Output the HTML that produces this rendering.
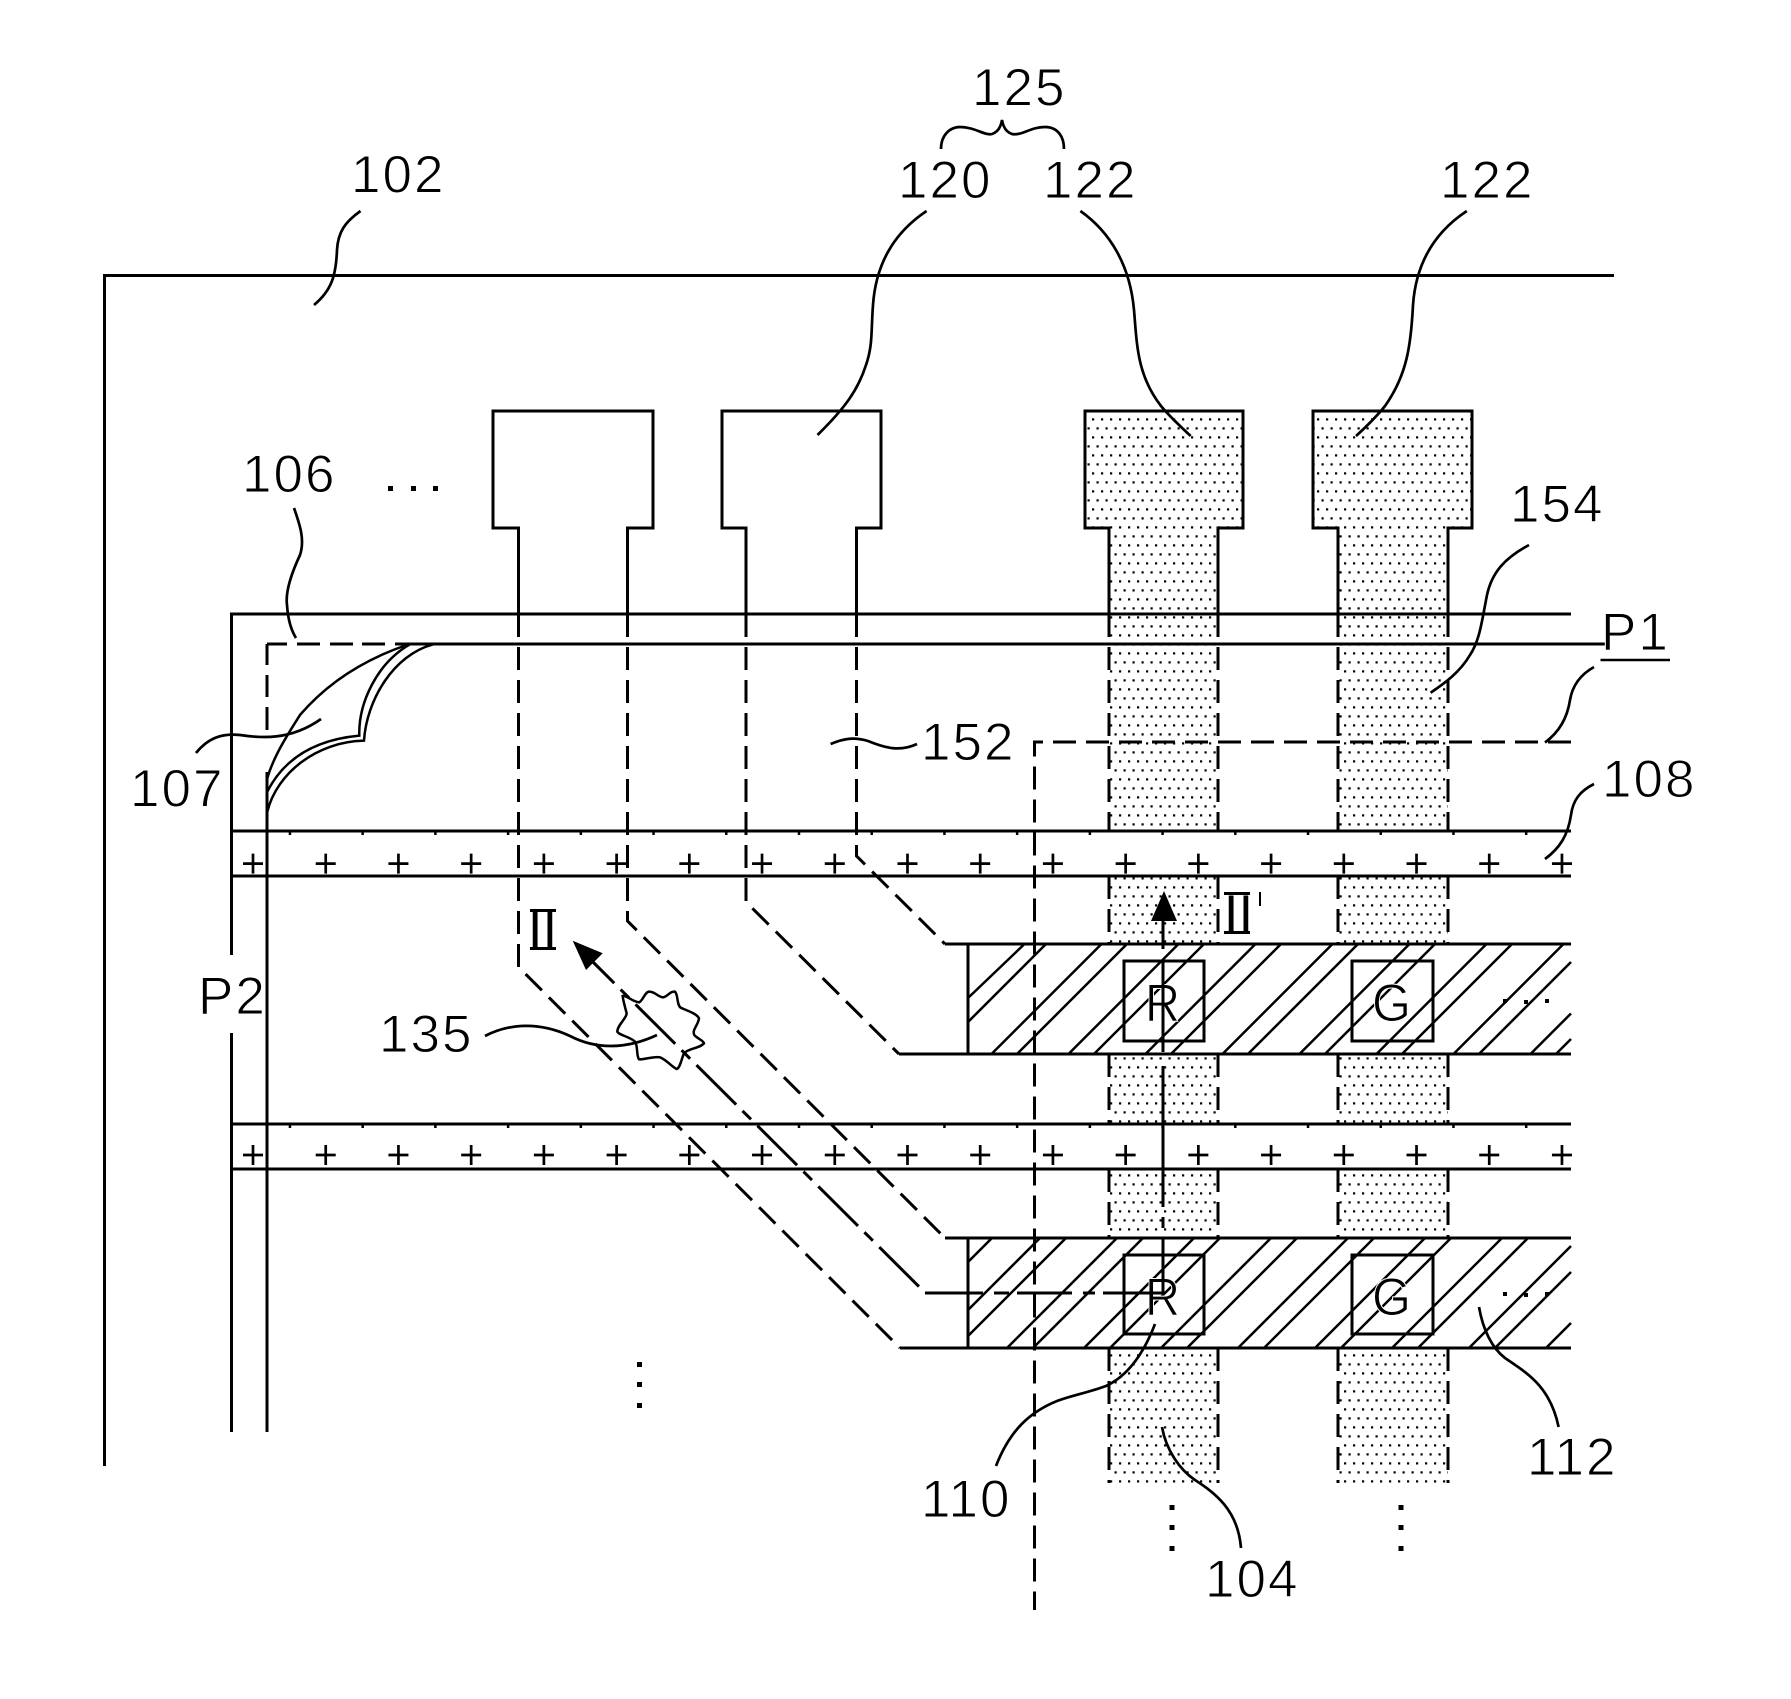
<!DOCTYPE html>
<html><head><meta charset="utf-8"><style>
html,body{margin:0;padding:0;background:#fff}
svg{display:block}
text{font-family:"Liberation Sans",sans-serif;font-size:53px;fill:#000;stroke:#fff;stroke-width:1px;letter-spacing:2px}
</style></head><body>
<svg xmlns="http://www.w3.org/2000/svg" width="1791" height="1699" viewBox="0 0 1791 1699">
<defs>
<pattern id="st" patternUnits="userSpaceOnUse" x="1092" y="418.3" width="9" height="18"><rect x="0" y="0" width="2.2" height="2.2" fill="#000"/><rect x="4.5" y="9" width="2.2" height="2.2" fill="#000"/></pattern>
</defs>
<rect width="1791" height="1699" fill="#fff"/>
<!-- stipple -->
<g fill="url(#st)">
<path d="M1085,411H1243V528H1218V830H1109V528H1085Z"/>
<path d="M1313,411H1472V528H1448V830H1338V528H1313Z"/>
<rect x="1109" y="876" width="109" height="68"/><rect x="1338" y="876" width="110" height="68"/>
<rect x="1109" y="1054" width="109" height="70"/><rect x="1338" y="1054" width="110" height="70"/>
<rect x="1109" y="1169" width="109" height="69"/><rect x="1338" y="1169" width="110" height="69"/>
<rect x="1109" y="1348" width="109" height="135"/><rect x="1338" y="1348" width="110" height="135"/>
</g>
<g fill="none" stroke="#000" stroke-width="3">
<!-- frame -->
<path d="M104.5,1466V275.5H1614"/>
<path d="M231.5,1432V1033M231.5,955V614H1571"/>
<path d="M395,644H1606"/>
<path d="M267,644H287M297,644H320M330,644H353M362,644H385"/>
<path d="M267,644V665M267,675V697M267,707V730M267,772V1432"/>
<!-- bands -->
<path d="M231.5,831H1571M231.5,876H1571M231.5,1124H1571M231.5,1169H1571"/>
<!-- pads -->
<path d="M518.5,637V528H493V411H653V528H627.5V637"/>
<path d="M746,637V528H722V411H881V528H856.5V637"/>
<path d="M1109,637V528H1085V411H1243V528H1218V637"/>
<path d="M1338,637V528H1313V411H1472V528H1448V637"/>
<!-- dashed stems + diagonals -->
<path stroke-dasharray="23 10" d="M518.5,647V967L900,1348"/>
<path stroke-dasharray="23 10" d="M627.5,647V921L945,1238"/>
<path stroke-dasharray="23 10" d="M746,647V902L899,1054"/>
<path stroke-dasharray="23 10" d="M856.5,647V856L945,944"/>
<path d="M899,1054H1571M945,944H1571M945,1238H1571M900,1348H1571"/>
<path stroke-dasharray="23 10" d="M1109,647V831M1218,647V831M1338,647V831M1448,647V831M1109,876V944M1218,876V944M1338,876V944M1448,876V944M1109,1054V1124M1218,1054V1124M1338,1054V1124M1448,1054V1124M1109,1169V1238M1218,1169V1238M1338,1169V1238M1448,1169V1238M1109,1348V1483M1218,1348V1483M1338,1348V1483M1448,1348V1483"/>
<!-- P1 dashed -->
<path stroke-dasharray="23 10" d="M1571,742H1034.5V1610"/>
<path d="M968,944V1054M968,1238V1348"/>
</g>
<!-- hatch -->
<g fill="none" stroke="#000" stroke-width="2.5">
<path d="M968,998L1024.5,944M968,1022L1046,944M991.5,1054L1101.5,944M1017,1054L1127,944M1068.5,1054L1178.5,944M1094,1054L1204,944M1145.5,1054L1255.5,944M1171,1054L1281,944M1222.5,1054L1332.5,944M1248,1054L1358,944M1299.5,1054L1409.5,944M1325,1054L1435,944M1376.5,1054L1486.5,944M1402,1054L1512,944M1453.5,1054L1563.5,944M1479,1054L1571,962M1530.5,1054L1571,1013.5M1556,1054L1571,1039"/>
<path d="M968,1262L992,1238M968,1310L1040,1238M968,1336L1066,1238M1007,1348L1117,1238M1033,1348L1143,1238M1084,1348L1194,1238M1110,1348L1220,1238M1161,1348L1271,1238M1187,1348L1297,1238M1238,1348L1348,1238M1264,1348L1374,1238M1315,1348L1425,1238M1341,1348L1451,1238M1392,1348L1502,1238M1418,1348L1528,1238M1469,1348L1571,1246M1495,1348L1571,1272M1546,1348L1571,1323"/>
</g>
<!-- ticks and plus marks -->
<g fill="none" stroke="#000">
<path stroke-width="4" stroke-dasharray="2.5 70.22" d="M288.7,833H1530M288.7,1126H1530"/>
<path stroke-width="2.7" stroke-dasharray="20 52.72" d="M243,863.6H1572M243,1155H1572"/>
<path stroke-width="20" stroke-dasharray="2.7 70.02" d="M251.65,863.6H1572M251.65,1155H1572"/>
</g>
<!-- boxes -->
<g fill="none" stroke="#000" stroke-width="3">
<rect x="1124" y="961" width="80" height="80"/><rect x="1352" y="961" width="81" height="80"/>
<rect x="1124" y="1255" width="80" height="79"/><rect x="1352" y="1255" width="81" height="79"/>
</g>
<!-- labels -->
<text x="351" y="192.5">102</text>
<text x="972" y="105.5">125</text>
<text x="898" y="198">120</text>
<text x="1043" y="198">122</text>
<text x="1440" y="198">122</text>
<text x="242" y="492">106</text>
<text x="130" y="806.5">107</text>
<text x="1510" y="522">154</text>
<text x="1601" y="650">P1</text>
<text x="921" y="760">152</text>
<text x="1602" y="797">108</text>
<text x="198" y="1014">P2</text>
<text x="379" y="1052">135</text>
<text x="1527" y="1475">112</text>
<text x="921" y="1517">110</text>
<text x="1205" y="1597">104</text>
<text x="1145" y="1021" textLength="35" lengthAdjust="spacingAndGlyphs" style="letter-spacing:0">R</text>
<text x="1372" y="1021" textLength="39" lengthAdjust="spacingAndGlyphs" style="letter-spacing:0">G</text>
<text x="1145" y="1315" textLength="35" lengthAdjust="spacingAndGlyphs" style="letter-spacing:0">R</text>
<text x="1372" y="1315" textLength="39" lengthAdjust="spacingAndGlyphs" style="letter-spacing:0">G</text>
<!-- roman numerals -->
<text x="517.5" y="948" style='font-family:"Noto Sans CJK KR","Liberation Sans",sans-serif;font-size:50px;letter-spacing:0;stroke:none'>Ⅱ</text>
<text x="1213.5" y="932" style='font-family:"Noto Sans CJK KR","Liberation Sans",sans-serif;font-size:50px;letter-spacing:0;stroke:none'>Ⅱ</text>
<g fill="#000">
<rect x="530" y="909" width="26" height="3"/><rect x="530" y="947" width="26" height="3"/>
<rect x="1224" y="892" width="26" height="3"/><rect x="1224" y="931" width="26" height="3"/>
</g>
<rect x="1259" y="892" width="2" height="14" fill="#000"/>
<line x1="1600.5" y1="660" x2="1670" y2="660" stroke="#000" stroke-width="2.5"/>
<!-- leaders -->
<g fill="none" stroke="#000" stroke-width="2.7">
<path d="M360.5,211C345,222 338,232 337,250C336,275 332,290 314,305"/>
<path d="M926.6,211C895,232 876,262 873,305C871,330 873,345 866,365C858,390 845,408 817.5,435"/>
<path d="M1080.4,211C1110,232 1130,265 1134,310C1137,345 1137,375 1161,406C1170,417 1180,426 1190.7,436"/>
<path d="M1466.8,211C1435,232 1416,262 1413,305C1411,345 1407,375 1385,406C1377,416 1367,426 1356,436"/>
<path d="M941,149C941,135 950,127 960,127C975,127 985,136 992,134C998,132 1001,126 1002,120C1003,126 1006,132 1012,134C1022,136 1030,127 1045,127C1058,127 1064,137 1064,149"/>
<path d="M294,508C300,525 305,540 300,555C293,570 285,590 287,605C288,620 291,630 296,638"/>
<path d="M196,753C208,738 222,733 240,735C260,738 290,741 321,719"/>
<path d="M830.6,744C845,738 855,737 868,741C885,748 900,752 917,744"/>
<path d="M1529,545C1505,558 1492,572 1487,595C1482,620 1480,640 1470,655C1460,672 1445,683 1430.6,692.7"/>
<path d="M1594,667C1578,676 1572,688 1570,700C1567,720 1558,733 1545,742.5"/>
<path d="M1594,784C1580,791 1573,800 1571,815C1568,835 1560,848 1545,859"/>
<path d="M1155,1324C1145,1350 1130,1375 1106,1386C1090,1392 1070,1396 1057,1401C1030,1412 1010,1430 996,1466"/>
<path d="M1162,1427C1166,1450 1180,1470 1195,1480C1215,1493 1238,1510 1241,1548"/>
<path d="M1479,1307C1483,1330 1492,1348 1505,1358C1525,1372 1550,1385 1558.6,1427"/>
<path d="M485,1036C510,1023 540,1022 570,1036C595,1049 625,1050 657,1035"/>
</g>
<!-- petal and defect -->
<g fill="none" stroke="#000" stroke-width="7.5" transform="translate(220,620) scale(.3333)">
<path d="M142,475C160,410 205,340 240,285C300,215 400,130 560,75"/>
<path d="M142,515C190,420 280,360 418,347C415,250 470,130 570,73"/>
<path d="M142,575C170,460 290,365 432,362C440,240 520,105 640,73"/>
</g>
<g fill="none" stroke="#000" stroke-width="7.5" transform="translate(560,920) scale(.3333)">
<path d="M188,228C200,225 215,245 238,247C250,240 255,215 268,215C285,215 295,232 310,232C325,228 330,213 345,215C355,225 350,255 362,263C380,272 410,280 417,295C415,315 395,330 403,345C410,355 430,360 432,370C420,385 385,385 372,400C365,415 360,445 350,447C335,440 320,420 300,412C280,408 250,420 237,418C228,405 235,380 225,365C210,350 175,345 172,335C172,315 200,295 200,280C195,260 190,245 188,228Z"/>
</g>
<!-- section line -->
<g fill="none" stroke="#000" stroke-width="3">
<path stroke-dasharray="56 9 12 9" stroke-dashoffset="26" d="M593,962L925.4,1293"/>
<path d="M925,1293H983M994,1293H1009M1017,1293H1072M1083,1293H1095M1103,1293H1163"/>
<path d="M1163,1293V1239M1163,1228V1217M1163,1207V1066M1163,1052V960M1163,949V921"/>
</g>
<path d="M572.7,940.7L602.7,953.3L586,970Z" fill="#000"/>
<path d="M1164,891L1177,921H1151Z" fill="#000"/>
<!-- dots -->
<g fill="#000">
<rect x="388" y="486" width="5" height="5"/><rect x="411" y="486" width="5" height="5"/><rect x="433" y="486" width="5" height="5"/>
<rect x="1503" y="999" width="4" height="4"/><rect x="1524" y="1000" width="4" height="4"/><rect x="1545" y="999" width="4" height="4"/>
<rect x="1503" y="1292" width="4" height="4"/><rect x="1524" y="1293" width="4" height="4"/><rect x="1545" y="1292" width="4" height="4"/>
<rect x="637" y="1362" width="5" height="5"/><rect x="637" y="1382" width="5" height="5"/><rect x="637" y="1403" width="5" height="5"/>
<rect x="1169.5" y="1505" width="5" height="5"/><rect x="1169.5" y="1525" width="5" height="5"/><rect x="1169.5" y="1546" width="5" height="5"/>
<rect x="1398.5" y="1505" width="5" height="5"/><rect x="1398.5" y="1525" width="5" height="5"/><rect x="1398.5" y="1546" width="5" height="5"/>
</g>
</svg>
</body></html>
